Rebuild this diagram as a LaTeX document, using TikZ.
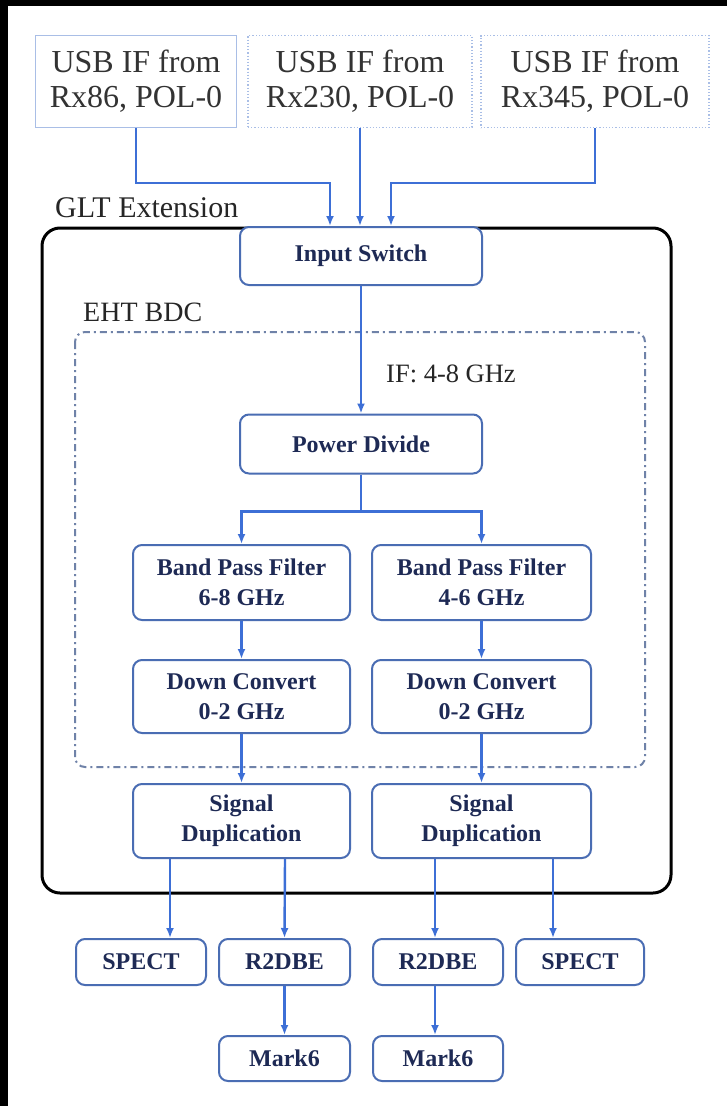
\documentclass[tikz,border=0pt]{standalone}
\usepackage{fontspec}
\setmainfont{Liberation Serif}
\usepackage{xcolor}
\usetikzlibrary{arrows.meta,shapes}
\definecolor{boxblue}{HTML}{4A6DB3}
\definecolor{arrblue}{HTML}{3D6FD6}
\definecolor{txtnavy}{HTML}{1E2A55}
\definecolor{srcblue}{HTML}{A9BEE6}
\definecolor{bdcgray}{HTML}{6F82A8}

\begin{document}
\begin{tikzpicture}[x=1pt,y=-1pt,
	blk/.style={draw=boxblue,fill=white,line width=2pt,rounded corners=9pt,text=txtnavy,
		font=\fontsize{24}{30}\selectfont\bfseries,align=center,inner sep=0pt},
	src/.style={draw=srcblue,line width=1.2pt,text=black!80,
		font=\fontsize{32}{35}\selectfont,align=center,inner sep=0pt,
		minimum width=#1,minimum height=92pt},
	lbl/.style={text=black!85,inner sep=0pt,anchor=base west}]
	% page and black edges
	\fill[white] (0,0) rectangle (727,1106);
	\fill[black] (0,0) rectangle (8,1106);
	\fill[black] (0,0) rectangle (727,6);
	%
	\draw[black,line width=3pt,rounded corners=18pt] (42,228) rectangle (671,893);
	\draw[bdcgray,line width=2pt,rounded corners=10pt,
		dash pattern=on 7pt off 4pt on 2pt off 4pt] (75,332) rectangle (645,767);
	\node[lbl,font=\fontsize{30}{30}\selectfont] (glt) at (55,217) {GLT Extension};
	\node[lbl,font=\fontsize{28}{28}\selectfont] (eht) at (83,321) {EHT BDC};
	%
	\node[src=201pt] (src1) at (136,81.5) {USB IF from\\Rx86, POL-0};
	\node[src=224pt,dotted] (src2) at (360,81.5) {USB IF from\\Rx230, POL-0};
	\node[src=228pt,dotted] (src3) at (595,81.5) {USB IF from\\Rx345, POL-0};
	%
	\node[blk,minimum width=242pt,minimum height=58pt] (sw) at (361,256) {Input Switch};
	\node[blk,minimum width=242pt,minimum height=59pt] (pd) at (361,444) {Power Divide};
	\node[blk,minimum width=217pt,minimum height=75pt] (bpfL) at (241.5,582.5) {Band Pass Filter\\6-8 GHz};
	\node[blk,minimum width=219pt,minimum height=75pt] (bpfR) at (481.5,582.5) {Band Pass Filter\\4-6 GHz};
	\node[blk,minimum width=217pt,minimum height=73pt] (dcL) at (241.5,696.5) {Down Convert\\0-2 GHz};
	\node[blk,minimum width=219pt,minimum height=73pt] (dcR) at (481.5,696.5) {Down Convert\\0-2 GHz};
	\node[blk,minimum width=217pt,minimum height=74pt] (sdL) at (241.5,821) {Signal\\Duplication};
	\node[blk,minimum width=219pt,minimum height=74pt] (sdR) at (481.5,821) {Signal\\Duplication};
	\node[blk,minimum width=130pt,minimum height=46pt] (spL) at (141,962) {SPECT};
	\node[blk,minimum width=131pt,minimum height=46pt] (r2L) at (284.5,962) {R2DBE};
	\node[blk,minimum width=130pt,minimum height=46pt] (r2R) at (438,962) {R2DBE};
	\node[blk,minimum width=128pt,minimum height=46pt] (spR) at (580,962) {SPECT};
	\node[blk,minimum width=131pt,minimum height=45pt] (mkL) at (284.5,1058.5) {Mark6};
	\node[blk,minimum width=130pt,minimum height=45pt] (mkR) at (438,1058.5) {Mark6};
	%
	\path[-{Latex[length=10pt,width=8pt]},arrblue,line width=2.4pt]
	(src1.south) edge[to path={-- ++(0,55) -| (\tikztotarget)}] ([xshift=-31pt]sw.north)
	(src2.south) edge ([xshift=-1pt]sw.north)
	(src3.south) edge[to path={-- ++(0,55) -| (\tikztotarget)}] ([xshift=30pt]sw.north)
	(sw) edge node[lbl,font=\fontsize{26.5}{26.5}\selectfont,pos=.76,xshift=24pt] {IF: 4-8 GHz} (pd)
	(pd.south) edge[to path={-- ++(0,37) -| (\tikztotarget)}] (bpfL.north)
	(pd.south) edge[to path={-- ++(0,37) -| (\tikztotarget)}] (bpfR.north)
	(bpfL) edge (dcL)
	(bpfR) edge (dcR)
	(dcL) edge (sdL)
	(dcR) edge (sdR)
	([xshift=-71.5pt]sdL.south) edge ([xshift=29pt]spL.north)
	([xshift=43.5pt]sdL.south) edge (r2L.north)
	([xshift=-46.5pt]sdR.south) edge ([xshift=-3pt]r2R.north)
	([xshift=71.5pt]sdR.south) edge ([xshift=-27pt]spR.north)
	(r2L) edge (mkL)
	([xshift=-3pt]r2R.south) edge ([xshift=-3pt]mkR.north);
\end{tikzpicture}
\end{document}
